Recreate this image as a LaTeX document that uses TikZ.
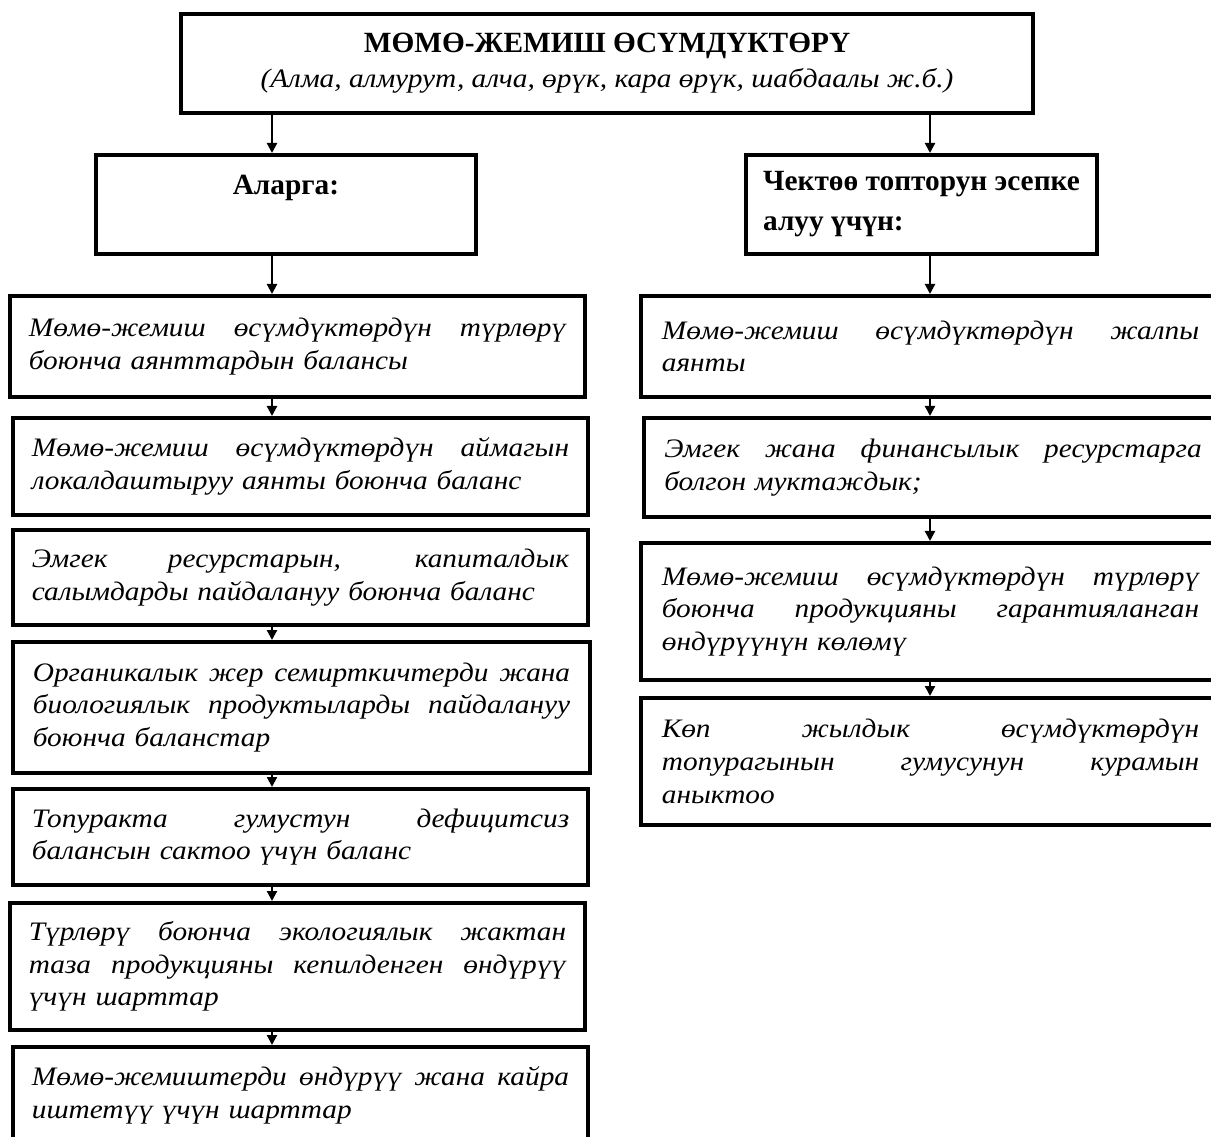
\documentclass[tikz,border=0pt]{standalone}
\usepackage{fontspec}
\setmainfont{Liberation Serif}[FakeStretch=1.1]
\newfontfamily\headfont{Liberation Serif}
\usetikzlibrary{arrows.meta}

% one justified line of a box
\newlength\tw
\setlength\tw{403pt}
\newcommand\jl[1]{{\spaceskip=0pt\xspaceskip=0pt\relax\makebox[\tw][s]{#1}}}

\tikzset{
	box/.style={draw, line width=3pt, inner sep=0pt},
	corners/.style args={#1/#2/#3/#4}{at={({(#1+#3)/2},{(#2+#4)/2})},
		minimum width={(#3-#1)*0.75pt}, minimum height={(#4-#2)*0.75pt}},
	txt/.style={text width=\tw, align=left, font=\fontsize{20}{24.5}\selectfont\itshape},
	head/.style={align=left, font=\headfont\fontsize{22}{30}\selectfont\bfseries},
	arr/.style={line width=1.6pt, -{Triangle[length=7.5pt,width=7.5pt]}},
}

\begin{document}
\begin{tikzpicture}[x=0.75pt,y=-0.75pt]
	\useasboundingbox (0,0) rectangle (1211,1137);
	\clip (0,0) rectangle (1211,1137);
	\coordinate (lc) at (272,0);
	\coordinate (rc) at (930,0);

	% top
	\node[box, corners=181/14/1033/113, align=center, font=\fontsize{20}{26}\selectfont] (top)
		{{\headfont\fontsize{22}{26}\selectfont\bfseries МӨМӨ-ЖЕМИШ ӨСҮМДҮКТӨРҮ}\\{\itshape (Алма, алмурут, алча, өрүк, кара өрүк, шабдаалы ж.б.)}};
	\node[box, corners=96/155/476/254, head, align=center] (alarga) {Аларга:\\\mbox{}};
	\node[box, corners=746/155/1097/254, head] (chek) {Чектөө топторун эсепке\\алуу үчүн:};

	% left column
	\node[box, corners=10/296/585/397, txt] (L1)
		{\jl{Мөмө-жемиш өсүмдүктөрдүн түрлөрү}\\боюнча аянттардын балансы};
	\node[box, corners=13/418/588/515, txt] (L2)
		{\jl{Мөмө-жемиш өсүмдүктөрдүн аймагын}\\локалдаштыруу аянты боюнча баланс};
	\node[box, corners=13/530/588/625, txt] (L3)
		{\jl{Эмгек ресурстарын, капиталдык}\\салымдарды пайдалануу боюнча баланс};
	\node[box, corners=13/642/590/773, txt] (L4)
		{\jl{Органикалык жер семирткичтерди жана}\\\jl{биологиялык продуктыларды пайдалануу}\\боюнча баланстар};
	\node[box, corners=13/789/588/885, txt] (L5)
		{\jl{Топуракта гумустун дефицитсиз}\\балансын сактоо үчүн баланс};
	\node[box, corners=10/903/585/1030, txt] (L6)
		{\jl{Түрлөрү боюнча экологиялык жактан}\\\jl{таза продукцияны кепилденген өндүрүү}\\үчүн шарттар};
	\node[box, corners=13/1047/588/1144, txt] (L7)
		{\jl{Мөмө-жемиштерди өндүрүү жана кайра}\\иштетүү үчүн шарттар};

	% right column
	\node[box, corners=641/296/1220/397, txt] (R1)
		{\jl{Мөмө-жемиш өсүмдүктөрдүн жалпы}\\аянты};
	\node[box, corners=644/418/1222/517, txt] (R2)
		{\jl{Эмгек жана финансылык ресурстарга}\\болгон муктаждык;};
	\node[box, corners=641/543/1220/680, txt] (R3)
		{\jl{Мөмө-жемиш өсүмдүктөрдүн түрлөрү}\\\jl{боюнча продукцияны гарантияланган}\\өндүрүүнүн көлөмү};
	\node[box, corners=641/698/1220/825, txt] (R4)
		{\jl{Көп жылдык өсүмдүктөрдүн}\\\jl{топурагынын гумусунун курамын}\\аныктоо};

	% arrows
	\draw[arr] (top.south -| lc) -- (alarga.north -| lc);
	\draw[arr] (top.south -| rc) -- (chek.north -| rc);
	\foreach \a/\b in {alarga/L1, L1/L2, L3/L4, L4/L5, L5/L6, L6/L7}
		\draw[arr] (\a.south -| lc) -- (\b.north -| lc);
	\foreach \a/\b in {chek/R1, R1/R2, R2/R3, R3/R4}
		\draw[arr] (\a.south -| rc) -- (\b.north -| rc);
\end{tikzpicture}
\end{document}
